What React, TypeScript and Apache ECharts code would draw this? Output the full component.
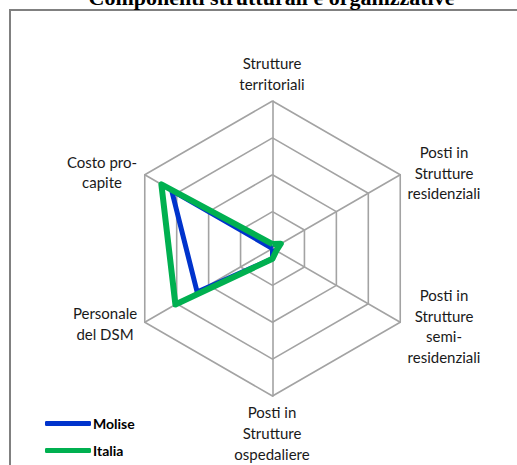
import React, { useEffect, useRef } from "react";
import * as echarts from "echarts";

// Indicators listed counter-clockwise from the top (ECharts radar order)
const indicatorNames = [
  "Strutture territoriali",
  "Costo pro-capite",
  "Personale del DSM",
  "Posti in Strutture ospedaliere",
  "Posti in Strutture semi-residenziali",
  "Posti in Strutture residenziali",
];
const indicatorLabels = [
  "Strutture\nterritoriali",
  "Costo pro-\ncapite",
  "Personale\ndel DSM",
  "Posti in\nStrutture\nospedaliere",
  "Posti in\nStrutture\nsemi-\nresidenziali",
  "Posti in\nStrutture\nresidenziali",
];
const seriesNames = ["Molise", "Italia"];
const moliseValues = [0.0, 0.79, 0.59, 0.07, 0.0, 0.0];
const italiaValues = [0.03, 0.87, 0.76, 0.07, 0.03, 0.065];
const titleText = "Componenti strutturali e organizzative";

const labelPos: [number, number][] = [
  [272, 73.5],
  [102, 172],
  [105, 323.5],
  [272, 433],
  [444, 326],
  [444, 172.5],
];

const BLUE = "#0033CC";
const GREEN = "#00B050";
const GRID = "#A3A3A3";
const FONT = "Lato, 'Open Sans', sans-serif";

export default function App() {
  const ref = useRef<HTMLDivElement>(null);
  useEffect(() => {
    if (!ref.current) return;
    const chart = echarts.init(ref.current, null, { renderer: "svg" });
    const graphics: any[] = [
      {
        type: "rect",
        shape: { x: 10, y: 10, width: 700, height: 700 },
        style: { fill: "none", stroke: "#808080", lineWidth: 2 },
        silent: true,
      },
      {
        type: "text",
        x: 271.5,
        y: -3,
        style: {
          text: titleText,
          fontFamily: "'Liberation Serif', 'Times New Roman', serif",
          fontWeight: "bold",
          fontSize: 22,
          fill: "#000",
          textAlign: "center",
          textVerticalAlign: "middle",
        },
      },
    ];
    indicatorLabels.forEach((t, i) => {
      graphics.push({
        type: "text",
        x: labelPos[i][0],
        y: labelPos[i][1],
        style: {
          text: t,
          fontFamily: FONT,
          fontSize: 15,
          lineHeight: 20.7,
          fill: "#1a1a1a",
          textAlign: "center",
          textVerticalAlign: "middle",
        },
      });
    });
    chart.setOption({
      animation: false,
      graphic: graphics,
      legend: {
        orient: "vertical",
        left: 40,
        top: 410,
        height: 100,
        itemWidth: 46,
        itemHeight: 5,
        itemGap: 10,
        icon: "roundRect",
        data: seriesNames,
        textStyle: {
          fontFamily: FONT,
          fontWeight: "bold",
          fontSize: 14,
          lineHeight: 17,
          color: "#000",
          padding: [0, 0, 0, -3],
        },
      },
      radar: {
        center: [272.5, 248.5],
        radius: 147.5,
        startAngle: 90,
        splitNumber: 4,
        shape: "polygon",
        indicator: indicatorNames.map((n) => ({ name: n, min: 0, max: 1 })),
        axisName: { show: false },
        splitLine: { lineStyle: { color: GRID, width: 1.6 } },
        splitArea: { show: false },
        axisLine: { lineStyle: { color: GRID, width: 1.6 } },
        axisTick: { show: false },
        axisLabel: { show: false },
      },
      series: [
        {
          type: "radar",
          symbol: "none",
          data: [
            {
              name: seriesNames[0],
              value: moliseValues,
              lineStyle: { color: BLUE, width: 5 },
              itemStyle: { color: BLUE },
            },
            {
              name: seriesNames[1],
              value: italiaValues,
              lineStyle: { color: GREEN, width: 6 },
              itemStyle: { color: GREEN },
            },
          ],
        },
      ],
    });
    return () => chart.dispose();
  }, []);
  return (
    <div
      ref={ref}
      style={{ position: "absolute", left: 0, top: 0, width: 517, height: 465 }}
    />
  );
}
